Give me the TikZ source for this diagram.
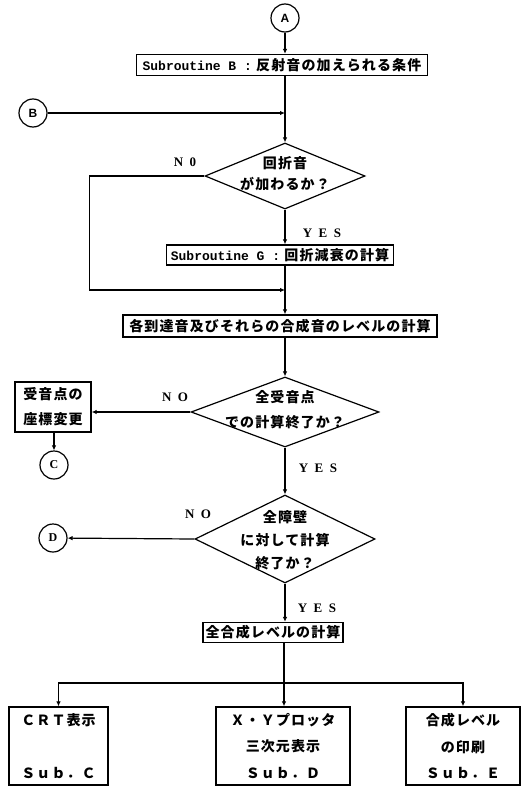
\documentclass[tikz,border=0pt]{standalone}
\usepackage{fontspec}
\usetikzlibrary{shapes.geometric,arrows.meta}
\newfontfamily\jp[LetterSpace=8]{Noto Sans CJK JP}
\newfontfamily\mono{Liberation Mono}
\newfontfamily\lab[LetterSpace=50]{Liberation Serif}
\newfontfamily\sans{Liberation Sans}
\newfontfamily\serif{Liberation Serif}
\begin{document}
\begin{tikzpicture}[x=1pt,y=-1pt,
  jpfont/.style={font=\jp\bfseries\fontsize{14}{#1}\selectfont},
  box/.style={draw, line width=1.3pt, inner sep=2pt, align=center, jpfont=15},
  dia/.style={draw, shape=diamond, line width=1.2pt, inner sep=0pt},
  dtext/.style={align=center, inner sep=0pt, jpfont=#1},
  circ/.style={draw, circle, line width=1.2pt, minimum size=28pt, inner sep=0pt},
  lbl/.style={font=\lab\bfseries\fontsize{13}{15}\selectfont, inner sep=0pt},
  ln/.style={line width=1.2pt},
  arr/.style={line width=1.2pt, -{Latex[length=5pt,width=4.5pt]}}
]
\useasboundingbox (0,0) rectangle (521,787);

% connectors circles
\node[circ, font=\sans\bfseries\fontsize{12}{14}\selectfont] (A) at (285,18) {A};
\node[circ, font=\sans\bfseries\fontsize{12}{14}\selectfont] (B) at (33,113) {B};

% boxes
\node[box, minimum width=291pt, minimum height=21pt] (sB) at (282,65)
  {{\mono\bfseries\fontsize{13}{15}\selectfont Subroutine B :} 反射音の加えられる条件};
\coordinate (jB) at (A |- B);

\node[dia, minimum width=160pt, minimum height=66pt] (d1) at (285,176) {};
\node[dtext=21] (d1t) at (285,174) {回折音\\が加わるか？};
\node[lbl] (no1) at (185,162) {N0};

\node[lbl] (yes1) at (322,233) {YES};
\node[box, minimum width=227pt, minimum height=20pt] (sG) at (280,255)
  {{\mono\bfseries\fontsize{13}{15}\selectfont Subroutine G :} 回折減衰の計算};
\coordinate (jN) at (285,290);

\node[box, minimum width=314pt, minimum height=22pt] (sL) at (280,326)
  {各到達音及びそれらの合成音のレベルの計算};

\node[dia, minimum width=188pt, minimum height=70pt] (d2) at (285,412) {};
\node[dtext=25] (d2t) at (285,409.5) {全受音点\\での計算終了か？};
\node[lbl] (no2) at (175,397) {NO};
\node[box, jpfont=25, minimum width=76pt, minimum height=50pt] (R) at (53,407) {受音点の\\座標変更};
\node[circ, font=\serif\bfseries\fontsize{12}{14}\selectfont] (C) at (54,465) {C};
\node[lbl] (yes2) at (318,468) {YES};

\node[dia, minimum width=180pt, minimum height=88pt] (d3) at (285,539) {};
\node[dtext=23] (d3t) at (285,540) {全障壁\\に対して計算\\終了か？};
\node[lbl] (no3) at (198,514) {NO};
\node[circ, font=\serif\bfseries\fontsize{12}{14}\selectfont] (D) at (53,538) {D};
\node[lbl] (yes3) at (317,608) {YES};

\node[box, minimum width=140pt, minimum height=20pt] (sT) at (273,632.5) {全合成レベルの計算};
\coordinate (br) at (284,683);

\node[box, jpfont=26.5, minimum width=99pt, minimum height=78pt] (crt) at (58.5,746)
  {ＣＲＴ表示\\[26.5pt]Ｓｕｂ．Ｃ};
\node[box, jpfont=26.5, minimum width=134pt, minimum height=78pt] (plt) at (283,746)
  {Ｘ・Ｙプロッタ\\三次元表示\\Ｓｕｂ．Ｄ};
\node[box, jpfont=26.5, minimum width=114pt, minimum height=78pt] (prn) at (463,746)
  {合成レベル\\の印刷\\Ｓｕｂ．Ｅ};

% connectors
\draw[arr] (A) -- (A |- sB.north);
\draw[arr] (sB.south -| A) -- (d1.north);
\draw[arr] (B) -- (jB);
\draw[arr] (d1.west) -- ++(-115,0) |- (jN);
\draw[arr] (d1.south) -- (d1.south |- sG.north);
\draw[arr] (sG.south -| A) -- (sL.north -| A);
\draw[arr] (sL.south -| A) -- (d2.north);
\draw[arr] (d2.west) -- (d2.west -| R.east);
\draw[arr] (C |- R.south) -- (C.north);
\draw[arr] (d2.south) -- (d3.north);
\draw[arr] (d3.west) -- (D);
\draw[arr] (d3.south) -- (d3.south |- sT.north);
\draw[ln] (sT.south -| br) -- (br);
\draw[arr] (br) -| (crt.north);
\draw[arr] (br) -- (br |- plt.north);
\draw[arr] (br) -| (prn.north);
\end{tikzpicture}
\end{document}
